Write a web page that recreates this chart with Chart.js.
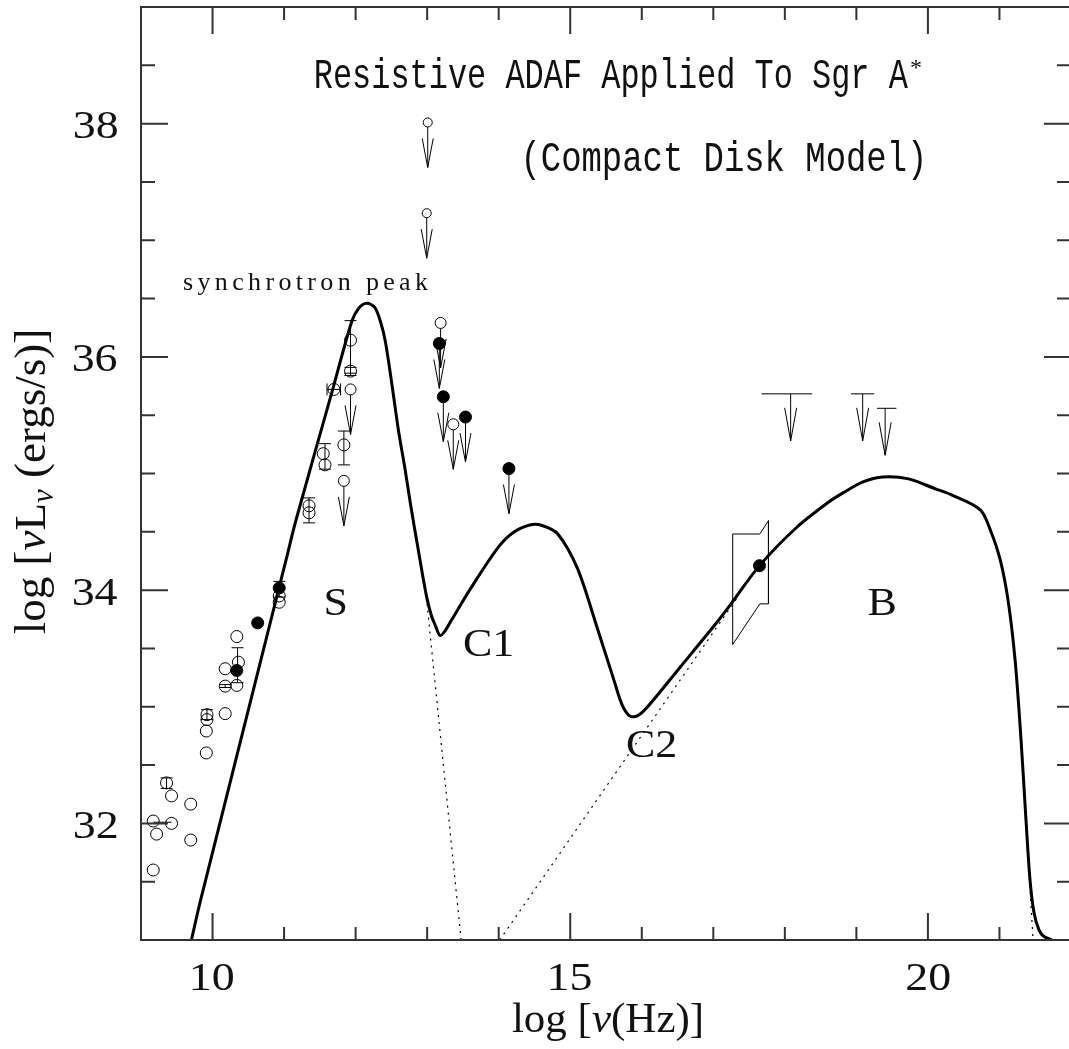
<!DOCTYPE html>
<html>
<head>
<meta charset="utf-8">
<script src="https://cdn.jsdelivr.net/npm/chart.js@4.4.1/dist/chart.umd.min.js"></script>
<style>
html,body{margin:0;padding:0;background:#fff;overflow:hidden;}
#wrap{width:1069px;height:1049px;overflow:hidden;position:relative;background:#fff;}
</style>
</head>
<body>
<div id="wrap"><canvas id="sed" width="1078" height="1049"></canvas></div>
<script>
// axes
const xMin = 9, xMax = 22, yMin = 31, yMax = 39;
const xTickLabels = [10, 15, 20];
const yTickLabels = [32, 34, 36, 38];

// total model spectrum (solid)
const modelX = [9.705, 9.834, 11.025, 11.164, 11.681, 11.947, 12.044, 12.155, 12.267, 12.346,
  12.415, 12.507, 12.600, 12.684, 12.767, 12.878, 12.989, 13.059, 13.115, 13.180,
  13.254, 13.337, 13.615, 13.990, 14.199, 14.449, 14.616, 14.824, 15.102, 15.380,
  15.612, 15.728, 15.839, 15.950, 16.075, 16.534, 17.048, 17.229, 17.646, 18.160,
  18.619, 18.814, 19.092, 19.370, 19.731, 20.106, 20.329, 20.732, 20.871, 21.010,
  21.121, 21.219, 21.302, 21.371, 21.427, 21.483, 21.552, 21.622, 21.733];
const modelY = [31.000, 31.344, 34.252, 34.595, 35.724, 36.305, 36.417, 36.459, 36.425, 36.305,
  36.134, 35.766, 35.364, 35.064, 34.739, 34.337, 33.953, 33.782, 33.696, 33.611,
  33.654, 33.739, 34.021, 34.364, 34.492, 34.560, 34.552, 34.483, 34.184, 33.671,
  33.226, 33.012, 32.918, 32.926, 32.995, 33.337, 33.722, 33.867, 34.210, 34.535,
  34.758, 34.834, 34.928, 34.971, 34.954, 34.868, 34.817, 34.689, 34.518, 34.261,
  33.910, 33.397, 32.713, 32.028, 31.515, 31.233, 31.087, 31.030, 31.000];

// component tails (dotted)
const syncTailX = [12.93, 12.989, 13.475];
const syncTailY = [34.12, 33.94, 31.0];
const comptonTailX = [14.014, 17.35];
const comptonTailY = [31.0, 33.948];
const bremTailX = [21.38, 21.42, 21.47];
const bremTailY = [31.95, 31.515, 31.0];

// detections
const openX = [9.171, 9.218, 9.171, 9.427, 9.427, 9.357, 9.695, 9.695, 9.913, 9.913,
  9.922, 9.922, 10.177, 10.177, 10.177, 10.339, 10.362, 10.339, 10.932, 10.932,
  11.349, 11.349, 11.548, 11.572, 11.697, 11.836, 11.929, 11.929];
const openY = [31.600, 31.908, 32.020, 32.000, 32.236, 32.347, 32.165, 31.857, 32.604, 32.792,
  32.890, 32.932, 32.941, 33.177, 33.326, 33.183, 33.382, 33.602, 33.896, 33.950,
  34.723, 34.663, 35.170, 35.074, 35.721, 35.245, 36.143, 35.878];
const filledX = [10.339, 10.631, 10.932, 17.646];
const filledY = [33.311, 33.719, 34.019, 34.210];

// error bars
const errX = [9.357, 9.922, 10.177, 10.35, 10.932, 11.349, 11.572, 11.836, 11.929, 11.929];
const errLo = [32.30, 32.89, 33.165, 33.206, 33.94, 34.577, 35.037, 35.074, 35.86, 35.84];
const errHi = [32.39, 32.975, 33.19, 33.506, 34.075, 34.791, 35.256, 35.364, 36.311, 35.91];
const hErrY = [35.721];
const hErrLo = [11.60];
const hErrHi = [11.79];

// horizontal link between the two low-frequency circles
const linkX = [9.171, 9.427];
const linkY = [32.01, 32.01];

// upper limits
const limSmallX = [13.008, 12.994];
const limSmallY = [38.010, 37.232];
const limOpenX = [13.188, 13.365, 11.836, 11.929];
const limOpenY = [36.291, 35.422, 34.937, 35.721];
const limFilledX = [13.170, 13.226, 13.536, 14.143];
const limFilledY = [36.115, 35.658, 35.484, 35.042];

// X-ray band upper limits
const xrLo = [17.674, 18.925, 19.288];
const xrHi = [18.383, 19.249, 19.560];
const xrArrow = [18.081, 19.088, 19.402];
const xrY = [35.683, 35.683, 35.559];

// Chandra bow tie
const bowX = [17.271, 17.650, 17.771, 17.771, 17.650, 17.271, 17.271];
const bowY = [34.481, 34.481, 34.595, 33.882, 33.882, 33.534, 34.481];

// component labels
const compText = ['S', 'C1', 'C2', 'B'];
const compLabX = [11.72, 13.851, 16.131, 19.356];
const compLabY = [33.897, 33.547, 32.678, 33.897];

const pts = (xs, ys) => xs.map((x, i) => ({ x, y: ys[i] }));

const serif = '"Liberation Serif", "DejaVu Serif", serif';
const mono = '"Liberation Mono", "DejaVu Sans Mono", monospace';

function inkText(ctx, str, font, x, y, align, valign, sx) {
  ctx.font = font; ctx.textAlign = 'left'; ctx.textBaseline = 'alphabetic';
  const m = ctx.measureText(str);
  const l = -m.actualBoundingBoxLeft, r = m.actualBoundingBoxRight;
  const t = -m.actualBoundingBoxAscent, b = m.actualBoundingBoxDescent;
  const ox = align === 'left' ? l : align === 'right' ? r : (l + r) / 2;
  const oy = valign === 'top' ? t : valign === 'bottom' ? b : valign === 'middle' ? (t + b) / 2 : 0;
  ctx.save(); ctx.translate(x, y - oy); ctx.scale(sx, 1); ctx.fillText(str, -ox, 0); ctx.restore();
}

function fitText(ctx, str, font, left, right, base) {
  ctx.font = font; ctx.textAlign = 'left'; ctx.textBaseline = 'alphabetic';
  const m = ctx.measureText(str);
  const l = -m.actualBoundingBoxLeft, r = m.actualBoundingBoxRight;
  const sx = (right - left) / (r - l);
  ctx.save(); ctx.translate(left, base); ctx.scale(sx, 1); ctx.fillText(str, -l, 0); ctx.restore();
}

function spacedText(ctx, str, font, left, right, base) {
  ctx.font = font; ctx.textAlign = 'left'; ctx.textBaseline = 'alphabetic';
  const w = [...str].map(c => ctx.measureText(c).width);
  const sum = w.reduce((a, b) => a + b, 0);
  const gap = (right - left - sum) / (str.length - 1);
  let pen = left;
  [...str].forEach((c, i) => { ctx.fillText(c, pen, base); pen += w[i] + gap; });
}

function drawRich(ctx, parts, x, y) {
  let pen = x;
  parts.forEach(p => { ctx.font = p.f; ctx.fillText(p.t, pen, y + (p.dy || 0)); pen += ctx.measureText(p.t).width; });
}
function richWidth(ctx, parts) {
  let w = 0;
  parts.forEach(p => { ctx.font = p.f; w += ctx.measureText(p.t).width; });
  return w;
}

const decor = {
  id: 'decor',
  afterDatasetsDraw(chart) {
    const ctx = chart.ctx, xs = chart.scales.x, ys = chart.scales.y;
    const px = v => xs.getPixelForValue(v), py = v => ys.getPixelForValue(v);
    const seg = (a, b, c, d) => { ctx.moveTo(a, b); ctx.lineTo(c, d); };
    ctx.save();
    ctx.strokeStyle = '#000'; ctx.lineWidth = 1;
    ctx.beginPath();
    errX.forEach((x, i) => {
      const X = px(x), lo = py(errLo[i]), hi = py(errHi[i]);
      seg(X, lo, X, hi); seg(X - 6, lo, X + 6, lo); seg(X - 6, hi, X + 6, hi);
    });
    hErrY.forEach((y, i) => {
      const Y = py(y), lo = px(hErrLo[i]), hi = px(hErrHi[i]);
      seg(lo, Y, hi, Y); seg(lo, Y - 6, lo, Y + 6); seg(hi, Y - 6, hi, Y + 6);
    });
    // arrows below upper-limit points
    chart.data.datasets.forEach((d, i) => {
      if (!d.upperLimit) return;
      chart.getDatasetMeta(i).data.forEach(el => {
        const X = el.x, Y = el.y, tip = Y + 45;
        seg(X, Y + d.pointRadius, X, tip);
        seg(X - 5.5, tip - 29, X, tip); seg(X, tip, X + 5.5, tip - 29);
      });
    });
    // X-ray band limits
    xrY.forEach((y, i) => {
      const Y = py(y), X = px(xrArrow[i]), tip = Y + 47;
      seg(px(xrLo[i]), Y, px(xrHi[i]), Y);
      seg(X, Y, X, tip);
      seg(X - 6, tip - 33, X, tip); seg(X, tip, X + 6, tip - 33);
    });
    ctx.stroke();
    ctx.restore();
  },
  afterDraw(chart) {
    const ctx = chart.ctx, xs = chart.scales.x, ys = chart.scales.y, a = chart.chartArea;
    const px = v => xs.getPixelForValue(v), py = v => ys.getPixelForValue(v);
    ctx.save();
    ctx.strokeStyle = '#333'; ctx.lineWidth = 2;
    ctx.strokeRect(a.left, a.top, a.right - a.left, a.bottom - a.top);
    ctx.beginPath();
    for (let v = xMin + 1; v < xMax; v++) {
      const X = px(v), len = xTickLabels.includes(v) ? 27 : 13;
      ctx.moveTo(X, a.bottom); ctx.lineTo(X, a.bottom - len);
      ctx.moveTo(X, a.top); ctx.lineTo(X, a.top + len);
    }
    for (let k = 1; k < (yMax - yMin) * 2; k++) {
      const v = yMin + k / 2, Y = py(v), len = yTickLabels.includes(v) ? 27 : 14;
      ctx.moveTo(a.left, Y); ctx.lineTo(a.left + len, Y);
      ctx.moveTo(a.right, Y); ctx.lineTo(a.right - len, Y);
    }
    ctx.stroke();

    ctx.fillStyle = '#111';
    const tickFont = '41px ' + serif;
    xTickLabels.forEach(v => inkText(ctx, String(v), tickFont, px(v), 976.5, 'center', 'middle', 1.12));
    yTickLabels.forEach(v => inkText(ctx, String(v), tickFont, 117, py(v) + 1.5, 'right', 'middle', 1.12));

    compText.forEach((t, i) => inkText(ctx, t, '40px ' + serif, px(compLabX[i]), py(compLabY[i]), 'center', 'middle', 1.1));

    fitText(ctx, 'Resistive ADAF Applied To Sgr A', '43px ' + mono, 316, 908, 88);
    inkText(ctx, '*', '24px ' + serif, 911, 60, 'left', 'top', 1);
    fitText(ctx, '(Compact Disk Model)', '43px ' + mono, 526, 922, 171);
    spacedText(ctx, 'synchrotron peak', '26px ' + serif, 183, 428, 290);

    const rom = '43px ' + serif, ita = 'italic 43px ' + serif;
    const xt = [{ t: 'log [', f: rom }, { t: 'ν', f: ita }, { t: '(Hz)]', f: rom }];
    ctx.textAlign = 'left'; ctx.textBaseline = 'alphabetic';
    drawRich(ctx, xt, 608 - richWidth(ctx, xt) / 2, 1032);

    const rom2 = '45px ' + serif, ita2 = 'italic 45px ' + serif, sub = 'italic 31px ' + serif;
    const yt = [{ t: 'log [', f: rom2 }, { t: 'ν', f: ita2 }, { t: 'L', f: rom2 },
      { t: 'ν', f: sub, dy: 8 }, { t: ' (ergs/s)]', f: rom2 }];
    ctx.translate(45, 481.5); ctx.rotate(-Math.PI / 2);
    drawRich(ctx, yt, -richWidth(ctx, yt) / 2, 0);
    ctx.restore();
  }
};

const openPt = { showLine: false, borderColor: '#000', backgroundColor: 'rgba(0,0,0,0)', pointBorderWidth: 1 };
const fillPt = { showLine: false, borderColor: '#000', backgroundColor: '#000', pointBorderWidth: 1 };
const dotted = { borderColor: '#000', borderWidth: 1.2, borderDash: [2, 5], pointRadius: 0, tension: 0 };

new Chart(document.getElementById('sed'), {
  type: 'line',
  data: {
    datasets: [
      { data: pts(modelX, modelY), borderColor: '#000', borderWidth: 3, pointRadius: 0, tension: 0.3 },
      Object.assign({ data: pts(syncTailX, syncTailY) }, dotted),
      Object.assign({ data: pts(comptonTailX, comptonTailY) }, dotted),
      Object.assign({ data: pts(bremTailX, bremTailY) }, dotted),
      { data: pts(bowX, bowY), borderColor: '#000', borderWidth: 1, pointRadius: 0, tension: 0 },
      { data: pts(linkX, linkY), borderColor: '#000', borderWidth: 1, pointRadius: 0, tension: 0 },
      Object.assign({ data: pts(openX, openY), pointRadius: 6 }, openPt),
      Object.assign({ data: pts(filledX, filledY), pointRadius: 6 }, fillPt),
      Object.assign({ data: pts(limSmallX, limSmallY), pointRadius: 4.5, upperLimit: true }, openPt),
      Object.assign({ data: pts(limOpenX, limOpenY), pointRadius: 5.5, upperLimit: true }, openPt),
      Object.assign({ data: pts(limFilledX, limFilledY), pointRadius: 6, upperLimit: true }, fillPt)
    ]
  },
  options: {
    responsive: false,
    animation: false,
    devicePixelRatio: 1,
    events: [],
    layout: { padding: { left: 141, right: 2, top: 5, bottom: 109 } },
    scales: {
      x: { type: 'linear', min: xMin, max: xMax, display: false },
      y: { type: 'linear', min: yMin, max: yMax, display: false }
    },
    plugins: { legend: { display: false }, tooltip: { enabled: false } }
  },
  plugins: [decor]
});
</script>
</body>
</html>
